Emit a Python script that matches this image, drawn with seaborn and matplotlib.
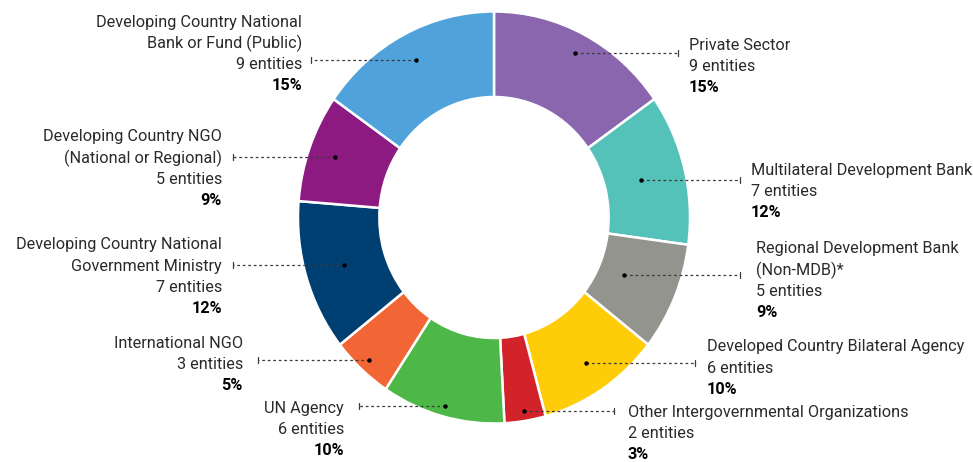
import numpy as np
import matplotlib
matplotlib.use("Agg")
import matplotlib.pyplot as plt
import seaborn as sns

# Entity types, clockwise from 12 o'clock
categories = [
    "Private Sector",
    "Multilateral Development Bank",
    "Regional Development Bank\n(Non-MDB)*",
    "Developed Country Bilateral Agency",
    "Other Intergovernmental Organizations",
    "UN Agency",
    "International NGO",
    "Developing Country National\nGovernment Ministry",
    "Developing Country NGO\n(National or Regional)",
    "Developing Country National\nBank or Fund (Public)",
]
entities = [9, 7, 5, 6, 2, 6, 3, 7, 5, 9]
colors = [
    "#8966AD", "#54C2B9", "#94948F", "#FFCC0A", "#D2232A",
    "#4DB848", "#F26636", "#003F72", "#8C1A81", "#4FA2DA",
]

# Label layout (pixels): text anchor x, first-line centre y, alignment,
# outer end of the leader line, and radial position of the leader dot
label_x = [689, 751, 756, 707, 628, 344, 243, 222, 222, 302]
label_y = [45, 170, 249, 347, 412, 408, 343, 245, 137, 22]
label_ha = ["left"] * 5 + ["right"] * 5
leader_end = [678, 740, 740, 695, 614, 359, 258, 233, 233, 311]
dot_r = [0.90, 0.77, 0.72, 0.85, 0.95, 0.95, 0.94, 0.80, 0.86, 0.86]


def rounded_percentages(values):
    """Whole-number shares that add up to 100 (largest remainder)."""
    v = np.asarray(values, dtype=float)
    raw = v / v.sum() * 100
    base = np.floor(raw).astype(int)
    rest = 100 - base.sum()
    order = np.argsort(-(raw - base), kind="stable")
    base[order[:rest]] += 1
    return base


sns.set_theme(style="white")
plt.rcParams["font.family"] = ["Roboto", "DejaVu Sans"]

W, H = 973, 462
fig = plt.figure(figsize=(W / 100, H / 100), dpi=100)
fig.patch.set_facecolor("white")

# Donut axes (slightly taller than wide)
cx, cy, rx, ry = 494, 217.5, 196, 206
ax = fig.add_axes([(cx - rx) / W, (H - (cy + ry)) / H, 2 * rx / W, 2 * ry / H])
palette = sns.color_palette(colors)
ax.pie(
    entities,
    colors=palette,
    startangle=90,
    counterclock=False,
    radius=1,
    wedgeprops=dict(width=0.415, edgecolor="white", linewidth=1.8),
)
ax.set_aspect("auto")
ax.set_xlim(-1, 1)
ax.set_ylim(-1, 1)
ax.axis("off")

# Overlay axes in pixel coordinates for leaders and text
ov = fig.add_axes([0, 0, 1, 1], facecolor="none")
ov.set_xlim(0, W)
ov.set_ylim(H, 0)
ov.axis("off")

to_px = ax.transData + ov.transData.inverted()

total = sum(entities)
pcts = rounded_percentages(entities)
cum = np.cumsum([0] + entities)
line_step = 21.3
txt_color = "#2a2a2a"
lead_color = "#3c3c3c"
fsize = 11.7

for i, name in enumerate(categories):
    mid = np.deg2rad((cum[i] + entities[i] / 2) / total * 360)
    ux, uy = dot_r[i] * np.sin(mid), dot_r[i] * np.cos(mid)
    dx, dy = to_px.transform((ux, uy))
    ex = leader_end[i]
    ov.plot([dx, ex], [dy, dy], color=lead_color, lw=0.9,
            ls=(0, (2.2, 2.2)), solid_capstyle="butt")
    ov.plot([ex, ex], [dy - 3, dy + 3], color=lead_color, lw=0.9)
    ov.plot([dx], [dy], marker="o", ms=3.2, color="black", mec="none")

    lines = name.split("\n") + [f"{entities[i]} entities"]
    for k, ln in enumerate(lines):
        ov.text(label_x[i], label_y[i] + k * line_step, ln,
                ha=label_ha[i], va="center", fontsize=fsize,
                color=txt_color)
    ov.text(label_x[i], label_y[i] + len(lines) * line_step, f"{pcts[i]}%",
            ha=label_ha[i], va="center", fontsize=fsize,
            fontweight="bold", color="black")

fig.savefig("out.png", dpi=100, facecolor="white")
